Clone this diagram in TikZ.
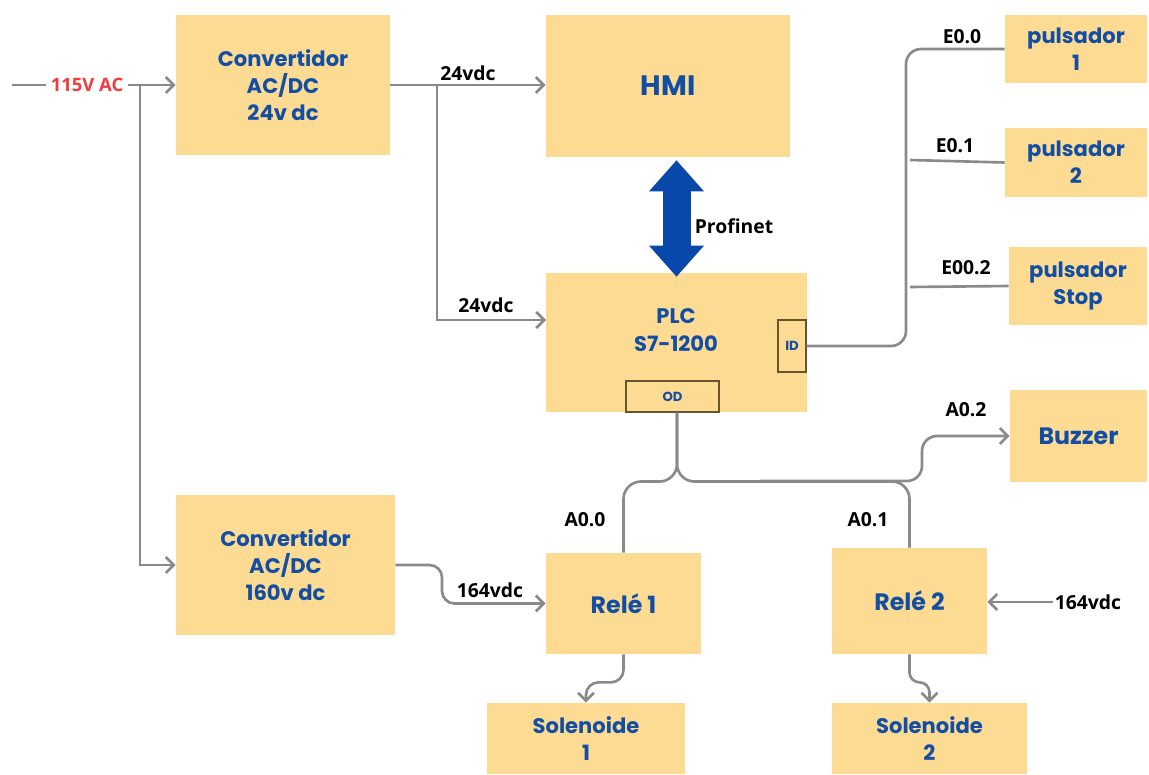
\documentclass[tikz,border=0pt]{standalone}
\usepackage{fontspec}
\usetikzlibrary{arrows.meta}
\newfontfamily\boxfont{Poppins}
\newfontfamily\tagfont{Open Sans}
\definecolor{boxfill}{RGB}{254,219,146}
\definecolor{boxtext}{RGB}{18,78,163}
\definecolor{wiregrey}{RGB}{138,138,138}
\definecolor{profiblue}{RGB}{8,72,170}
\definecolor{acred}{RGB}{240,60,60}
\definecolor{portedge}{RGB}{105,85,45}

\begin{document}
\begin{tikzpicture}[x=0.02cm,y=-0.02cm,
  blk/.style 2 args={fill=boxfill,text=boxtext,minimum width=#1*0.02cm,minimum height=#2*0.02cm,
    inner sep=0pt,align=center,font=\boxfont\bfseries\fontsize{12}{15.5}\selectfont},
  port/.style 2 args={draw=portedge,line width=0.6pt,text=boxtext,minimum width=#1*0.02cm,
    minimum height=#2*0.02cm,inner sep=0pt,font=\boxfont\bfseries\fontsize{7.5}{9}\selectfont},
  tag/.style={font=\tagfont\bfseries\fontsize{11}{13}\selectfont,inner sep=1pt},
  wire/.style={draw=wiregrey,line width=1.5pt},
  >={Straight Barb[length=1.6mm,width=3.2mm]}]
\useasboundingbox (0,0) rectangle (1149,774);

% blocks
\node[blk={214}{140}] (conv1) at (283,85) {Convertidor\\AC/DC\\24v dc};
\node[blk={244}{142},font=\boxfont\bfseries\fontsize{16}{19}\selectfont] (hmi) at (668,86) {HMI};
\node[blk={142}{68}] (puls1) at (1076,49) {pulsador\\1};
\node[blk={142}{69}] (puls2) at (1076,162.5) {pulsador\\2};
\node[blk={138}{78}] (pulsstop) at (1078,286) {pulsador\\Stop};
\node[blk={261}{139}] (plc) at (676.5,342.5) {};
\node[align=center,text=boxtext,font=\boxfont\bfseries\fontsize{12}{15.5}\selectfont] (plclbl) at (676,330) {PLC\\S7-1200};
\node[port={28}{52}] (id) at (792,346) {ID};
\node[port={93}{31}] (od) at (672.5,396.5) {OD};
\node[blk={137}{92},font=\boxfont\bfseries\fontsize{13.5}{16}\selectfont] (buzzer) at (1078.5,436) {Buzzer};
\node[blk={219}{140}] (conv2) at (285.5,565) {Convertidor\\AC/DC\\160v dc};
\node[blk={155}{101},font=\boxfont\bfseries\fontsize{13.5}{16}\selectfont] (rele1) at (623.5,603.5) {Relé 1};
\node[blk={155}{106},font=\boxfont\bfseries\fontsize{13.5}{16}\selectfont] (rele2) at (909.5,601) {Relé 2};
\node[blk={198}{71}] (sol1) at (586,738.5) {Solenoide\\1};
\node[blk={195}{71}] (sol2) at (929.5,738.5) {Solenoide\\2};

% supply
\coordinate (acin) at (12,85);
\node[font=\tagfont\bfseries\fontsize{10.5}{12}\selectfont,text=acred,inner xsep=6pt*0.4] (aclbl) at (87,85) {115V AC};
\draw[wire] (acin) -- (aclbl.west);
\draw[wire,->] (aclbl.east) -- (conv1.west);
\coordinate (acsplit) at (140,85);
\draw[wire,->] (acsplit) |- (conv2.west);
\draw[wire,->] (conv1.east) -- (conv1.east -| hmi.west);
\coordinate (dcsplit) at (437,85);
\coordinate (plcin) at (546,320);
\draw[wire,->] (dcsplit) |- (plcin);
\node[tag] (v24a) at (468,73) {24vdc};
\node[tag] (v24b) at (486,305) {24vdc};
\draw[wire,->,rounded corners=0.25cm] (conv2.east) -- (442,565) -- (442,603.5) -- (rele1.west);
\node[tag] (v164a) at (490,590) {164vdc};
\node[tag] (v164b) at (1088,602) {164vdc};
\draw[wire,->] (v164b.west) -- (v164b.west -| rele2.east);

% profinet
\draw[profiblue,line width=0.56cm,
  {Triangle[width=1.1cm,length=0.62cm,line width=0pt]}-{Triangle[width=1.1cm,length=0.62cm,line width=0pt]},
  shorten <=0.06cm,shorten >=-0.08cm] (hmi.south -| plc.north) -- (plc.north);
\node[tag] (profilbl) at (734,226) {Profinet};

% inputs
\draw[wire,rounded corners=0.3cm] (id.east) -- (906,346) -- (906,49) -- (puls1.west);
\draw[wire] (910,160) -- (puls2.west);
\draw[wire] (910,287) -- (pulsstop.west);
\node[tag] (e00) at (962,37) {E0.0};
\node[tag] (e01) at (955,146) {E0.1};
\node[tag] (e02) at (966,268) {E00.2};

% outputs
\coordinate (odout) at ([xshift=0.09cm]od.south);
\draw[wire,rounded corners=0.35cm] (odout) -- ++(0,69) -| (rele1.north);
\draw[wire,rounded corners=0.35cm] (odout) -- ++(0,69) -| (rele2.north);
\draw[wire,->,rounded corners=0.3cm] (760,481) -- (922,481) -- (922,436) -- (buzzer.west);
\node[tag] (a00) at (585,520) {A0.0};
\node[tag] (a01) at (868,520) {A0.1};
\node[tag] (a02) at (966,410) {A0.2};
\draw[wire,->,rounded corners=0.25cm] (rele1.south) -- ++(0,28) -| (sol1.north);
\draw[wire,->,rounded corners=0.2cm] (rele2.south) -- ++(0,28) -| (sol2.north);
\end{tikzpicture}
\end{document}
